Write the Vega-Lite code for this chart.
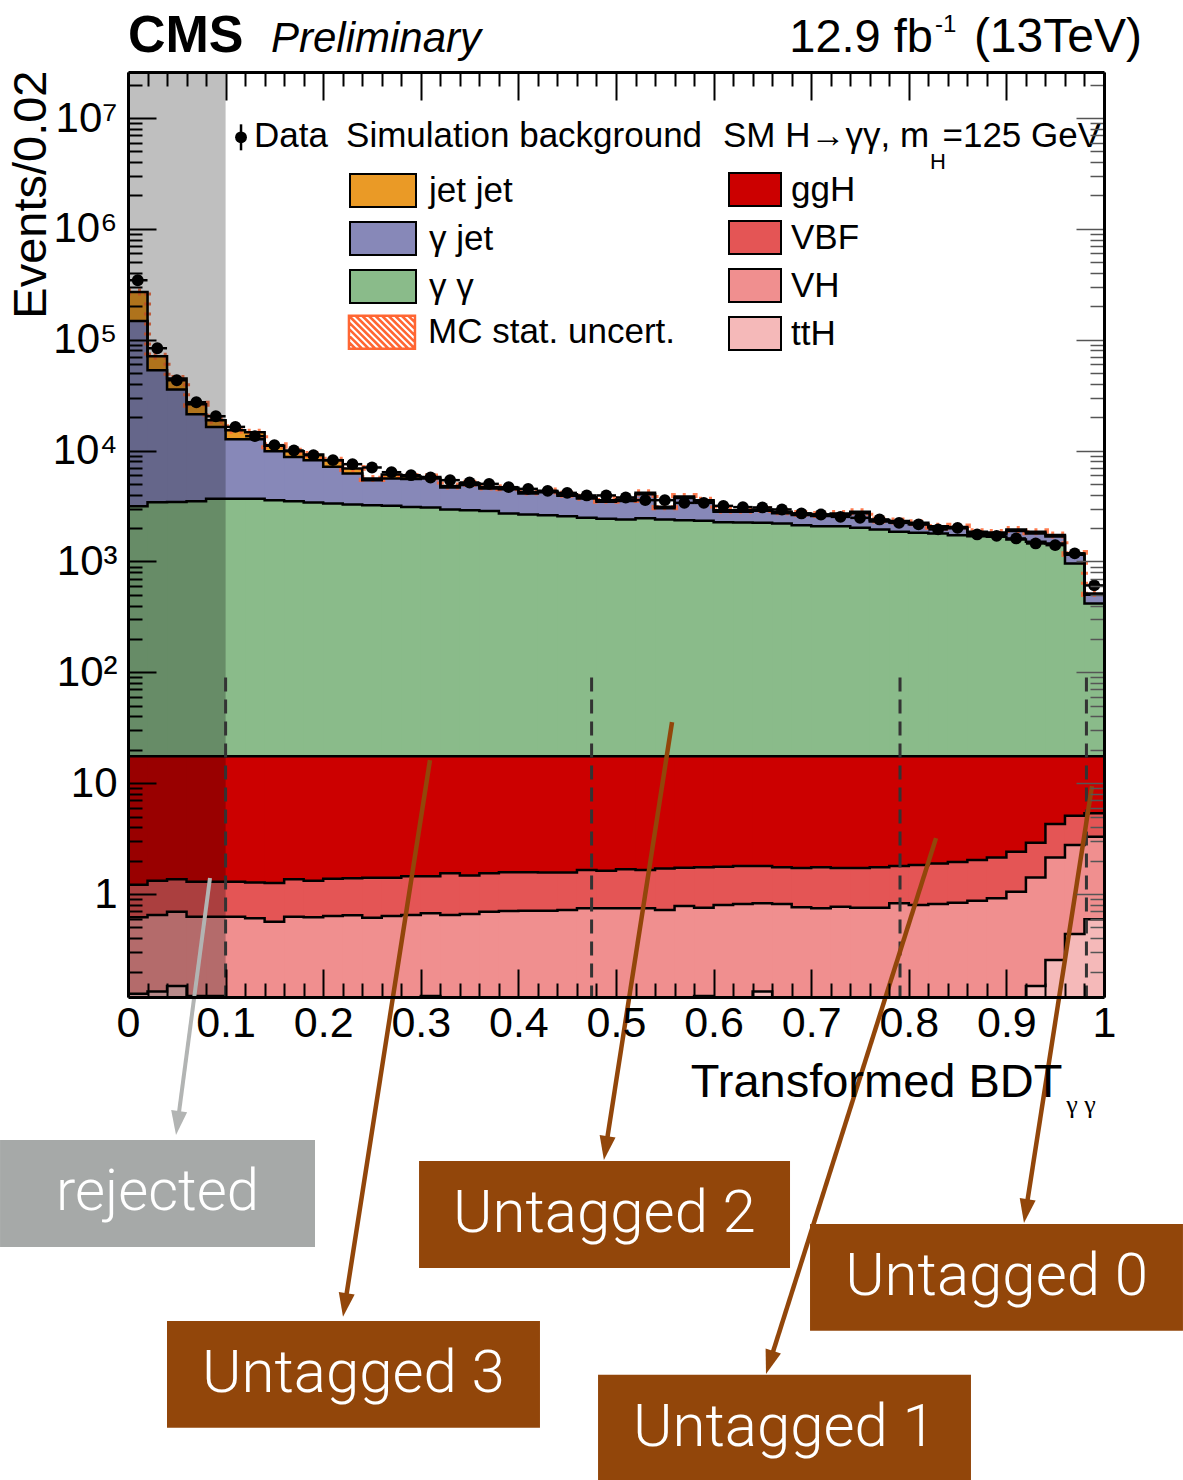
{
"$schema": "https://vega.github.io/schema/vega-lite/v6.json",
"width": 976, "height": 925,
"autosize": "none",
"padding": {"left": 128, "top": 72, "right": 79, "bottom": 483},
"background": "white",
"config": {"view": {"stroke": null}, "font": "Liberation Sans", "axis": {"labelOverlap": false}},
"datasets": {
"hist": [
{"lo":0,"mid":0.01,"hi":0.02,"jj":270000,"gj":147700,"gg":3150,"ggh":17.5,"vbf":1.21,"vh":0.616,"tth":0.126,"data":344000},
{"lo":0.02,"mid":0.03,"hi":0.04,"jj":71000,"gj":53100,"gg":3425,"ggh":17.5,"vbf":1.32,"vh":0.647,"tth":0.132,"data":83800},
{"lo":0.04,"mid":0.05,"hi":0.06,"jj":44700,"gj":35600,"gg":3446,"ggh":17.5,"vbf":1.36,"vh":0.692,"tth":0.148,"data":43100},
{"lo":0.06,"mid":0.07,"hi":0.08,"jj":26200,"gj":21300,"gg":3498,"ggh":17.5,"vbf":1.29,"vh":0.624,"tth":0.12,"data":27300},
{"lo":0.08,"mid":0.09,"hi":0.1,"jj":18800,"gj":16360,"gg":3668,"ggh":17.5,"vbf":1.29,"vh":0.624,"tth":0.12,"data":20400},
{"lo":0.1,"mid":0.11,"hi":0.12,"jj":15280,"gj":12670,"gg":3668,"ggh":17.5,"vbf":1.29,"vh":0.624,"tth":0.1,"data":16360},
{"lo":0.12,"mid":0.13,"hi":0.14,"jj":14650,"gj":12670,"gg":3668,"ggh":17.5,"vbf":1.27,"vh":0.604,"tth":0.1,"data":13490},
{"lo":0.14,"mid":0.15,"hi":0.16,"jj":11030,"gj":9877,"gg":3571,"ggh":17.5,"vbf":1.26,"vh":0.563,"tth":0.1,"data":11190},
{"lo":0.16,"mid":0.17,"hi":0.18,"jj":9877,"gj":8773,"gg":3498,"ggh":17.5,"vbf":1.36,"vh":0.624,"tth":0.1,"data":10020},
{"lo":0.18,"mid":0.19,"hi":0.2,"jj":9226,"gj":8190,"gg":3405,"ggh":17.5,"vbf":1.32,"vh":0.616,"tth":0.1,"data":9089},
{"lo":0.2,"mid":0.21,"hi":0.22,"jj":8190,"gj":7130,"gg":3334,"ggh":17.5,"vbf":1.37,"vh":0.633,"tth":0.1,"data":8194},
{"lo":0.22,"mid":0.23,"hi":0.24,"jj":6896,"gj":6217,"gg":3266,"ggh":17.5,"vbf":1.39,"vh":0.642,"tth":0.1,"data":7540},
{"lo":0.24,"mid":0.25,"hi":0.26,"jj":5600,"gj":5410,"gg":3218,"ggh":17.5,"vbf":1.4,"vh":0.611,"tth":0.1,"data":7040},
{"lo":0.26,"mid":0.27,"hi":0.28,"jj":6087,"gj":5600,"gg":3172,"ggh":17.5,"vbf":1.4,"vh":0.633,"tth":0.1,"data":6383},
{"lo":0.28,"mid":0.29,"hi":0.3,"jj":5850,"gj":5550,"gg":3100,"ggh":17.5,"vbf":1.45,"vh":0.647,"tth":0.1,"data":5998},
{"lo":0.3,"mid":0.31,"hi":0.32,"jj":5790,"gj":5600,"gg":3069,"ggh":17.5,"vbf":1.45,"vh":0.67,"tth":0.12,"data":5720},
{"lo":0.32,"mid":0.33,"hi":0.34,"jj":4800,"gj":4650,"gg":2944,"ggh":17.5,"vbf":1.54,"vh":0.647,"tth":0.1,"data":5410},
{"lo":0.34,"mid":0.35,"hi":0.36,"jj":5070,"gj":4900,"gg":2901,"ggh":17.5,"vbf":1.47,"vh":0.66,"tth":0.1,"data":5157},
{"lo":0.36,"mid":0.37,"hi":0.38,"jj":4700,"gj":4560,"gg":2858,"ggh":17.5,"vbf":1.54,"vh":0.692,"tth":0.1,"data":5009},
{"lo":0.38,"mid":0.39,"hi":0.4,"jj":4610,"gj":4470,"gg":2710,"ggh":17.5,"vbf":1.57,"vh":0.703,"tth":0.1,"data":4677},
{"lo":0.4,"mid":0.41,"hi":0.42,"jj":4240,"gj":4110,"gg":2653,"ggh":17.5,"vbf":1.57,"vh":0.707,"tth":0.1,"data":4514},
{"lo":0.42,"mid":0.43,"hi":0.44,"jj":4330,"gj":4200,"gg":2615,"ggh":17.5,"vbf":1.56,"vh":0.707,"tth":0.1,"data":4330},
{"lo":0.44,"mid":0.45,"hi":0.46,"jj":4030,"gj":3910,"gg":2561,"ggh":17.5,"vbf":1.56,"vh":0.718,"tth":0.1,"data":4155},
{"lo":0.46,"mid":0.47,"hi":0.48,"jj":3800,"gj":3690,"gg":2473,"ggh":17.5,"vbf":1.65,"vh":0.743,"tth":0.1,"data":3938},
{"lo":0.48,"mid":0.49,"hi":0.5,"jj":3570,"gj":3460,"gg":2422,"ggh":17.5,"vbf":1.62,"vh":0.743,"tth":0.1,"data":3938},
{"lo":0.5,"mid":0.51,"hi":0.52,"jj":3620,"gj":3510,"gg":2392,"ggh":17.5,"vbf":1.67,"vh":0.743,"tth":0.1,"data":3777},
{"lo":0.52,"mid":0.53,"hi":0.54,"jj":4155,"gj":4030,"gg":2457,"ggh":17.5,"vbf":1.65,"vh":0.743,"tth":0.1,"data":3571},
{"lo":0.54,"mid":0.55,"hi":0.56,"jj":3110,"gj":3020,"gg":2392,"ggh":17.5,"vbf":1.7,"vh":0.718,"tth":0.1,"data":3571},
{"lo":0.56,"mid":0.57,"hi":0.58,"jj":3860,"gj":3740,"gg":2357,"ggh":17.5,"vbf":1.73,"vh":0.779,"tth":0.1,"data":3376},
{"lo":0.58,"mid":0.59,"hi":0.6,"jj":3570,"gj":3460,"gg":2323,"ggh":17.5,"vbf":1.74,"vh":0.752,"tth":0.12,"data":3376},
{"lo":0.6,"mid":0.61,"hi":0.62,"jj":2900,"gj":2810,"gg":2261,"ggh":17.5,"vbf":1.76,"vh":0.796,"tth":0.1,"data":3172},
{"lo":0.62,"mid":0.63,"hi":0.64,"jj":2900,"gj":2800,"gg":2250,"ggh":17.5,"vbf":1.79,"vh":0.812,"tth":0.1,"data":3090},
{"lo":0.64,"mid":0.65,"hi":0.66,"jj":2944,"gj":2860,"gg":2229,"ggh":17.5,"vbf":1.79,"vh":0.824,"tth":0.132,"data":3069},
{"lo":0.66,"mid":0.67,"hi":0.68,"jj":2800,"gj":2720,"gg":2202,"ggh":17.5,"vbf":1.74,"vh":0.812,"tth":0.1,"data":2944},
{"lo":0.68,"mid":0.69,"hi":0.7,"jj":2710,"gj":2630,"gg":2125,"ggh":17.5,"vbf":1.72,"vh":0.759,"tth":0.1,"data":2710},
{"lo":0.7,"mid":0.71,"hi":0.72,"jj":2650,"gj":2570,"gg":2081,"ggh":17.5,"vbf":1.74,"vh":0.743,"tth":0.1,"data":2653},
{"lo":0.72,"mid":0.73,"hi":0.74,"jj":2710,"gj":2630,"gg":2081,"ggh":17.5,"vbf":1.72,"vh":0.768,"tth":0.1,"data":2524},
{"lo":0.74,"mid":0.75,"hi":0.76,"jj":2800,"gj":2720,"gg":2009,"ggh":17.5,"vbf":1.72,"vh":0.752,"tth":0.1,"data":2473},
{"lo":0.76,"mid":0.77,"hi":0.78,"jj":2360,"gj":2290,"gg":1944,"ggh":17.5,"vbf":1.74,"vh":0.752,"tth":0.1,"data":2392},
{"lo":0.78,"mid":0.79,"hi":0.8,"jj":2320,"gj":2250,"gg":1849,"ggh":17.5,"vbf":1.79,"vh":0.824,"tth":0.1,"data":2229},
{"lo":0.8,"mid":0.81,"hi":0.82,"jj":2230,"gj":2160,"gg":1811,"ggh":17.5,"vbf":1.83,"vh":0.796,"tth":0.1,"data":2157},
{"lo":0.82,"mid":0.83,"hi":0.84,"jj":2080,"gj":2020,"gg":1789,"ggh":17.5,"vbf":1.89,"vh":0.812,"tth":0.1,"data":1944},
{"lo":0.84,"mid":0.85,"hi":0.86,"jj":2050,"gj":1990,"gg":1727,"ggh":17.5,"vbf":1.94,"vh":0.835,"tth":0.1,"data":2009},
{"lo":0.86,"mid":0.87,"hi":0.88,"jj":1850,"gj":1790,"gg":1691,"ggh":17.5,"vbf":2.03,"vh":0.87,"tth":0.1,"data":1752},
{"lo":0.88,"mid":0.89,"hi":0.9,"jj":1820,"gj":1770,"gg":1667,"ggh":17.5,"vbf":2.14,"vh":0.915,"tth":0.1,"data":1702},
{"lo":0.9,"mid":0.91,"hi":0.92,"jj":1940,"gj":1880,"gg":1579,"ggh":17.5,"vbf":2.41,"vh":1.05,"tth":0.1,"data":1612},
{"lo":0.92,"mid":0.93,"hi":0.94,"jj":1850,"gj":1790,"gg":1502,"ggh":17.5,"vbf":2.9,"vh":1.41,"tth":0.148,"data":1453},
{"lo":0.94,"mid":0.95,"hi":0.96,"jj":1730,"gj":1680,"gg":1453,"ggh":17.5,"vbf":4.28,"vh":2.14,"tth":0.254,"data":1403},
{"lo":0.96,"mid":0.97,"hi":0.98,"jj":1180,"gj":1150,"gg":959,"ggh":17.5,"vbf":5.08,"vh":2.77,"tth":0.436,"data":1181},
{"lo":0.98,"mid":0.99,"hi":1,"jj":515,"gj":500,"gg":418,"ggh":17.5,"vbf":5.34,"vh":3.29,"tth":0.591,"data":608}
],
"bounds": [{"cut":0.1},{"cut":0.475},{"cut":0.791},{"cut":0.982}]
},
"layer": [
{
"layer": [
{
"data": {"name": "hist"},
"transform": [{"fold": ["jj","gj","gg"], "as": ["bkg","top"]}, {"filter": {"field": "bkg", "equal": "jj"}}],
"mark": {"type": "rect", "clip": true, "x2Offset": 1},
"encoding": {
"x": {"field": "lo", "type": "quantitative", "scale": {"type": "linear", "domain": [0,1], "nice": false, "zero": false},
 "axis": {"orient": "bottom", "values": [0,0.1,0.2,0.3,0.4,0.5,0.6,0.7,0.8,0.9,1], "format": "~g",
  "tickSize": -28, "tickWidth": 2, "tickColor": "black", "domainColor": "black", "domainWidth": 3,
  "labelFont": "Liberation Sans", "labelFontSize": 43, "labelColor": "black", "labelPadding": 33,
  "labelFlush": false, "labelOverlap": false, "labelBound": false, "grid": false,
  "title": "Transformed BDT", "titleFont": "Liberation Sans", "titleFontSize": 47, "titleFontWeight": "normal", "titleColor": "black",
  "titleX": 934, "titleY": 99, "titleAlign": "right", "titleBaseline": "alphabetic", "zindex": 3}},
"x2": {"field": "hi"},
"y": {"field": "top", "type": "quantitative", "scale": {"type": "log", "domain": [0.1178, 26000000], "nice": false},
 "axis": {"orient": "left", "values": [1,10,100,1000,10000,100000,1000000,10000000],
  "labelExpr": "datum.value == 1 ? '1' : datum.value == 10 ? '10' : datum.value == 100 ? '10²' : datum.value == 1000 ? '10³' : datum.value == 10000 ? '10⁴' : datum.value == 100000 ? '10⁵' : datum.value == 1000000 ? '10⁶' : datum.value == 10000000 ? '10⁷' : ''",
  "tickSize": -28, "tickWidth": 2, "tickColor": "black", "domainColor": "black", "domainWidth": 3,
  "labelFont": "Liberation Sans", "labelFontSize": 42, "labelColor": "black", "labelPadding": 39,
  "labelFlush": false, "labelOverlap": false, "labelBound": false, "grid": false,
  "title": "Events/0.02", "titleFont": "Liberation Sans", "titleFontSize": 47, "titleFontWeight": "normal", "titleColor": "black",
  "titleX": -83, "titleY": -2, "titleAlign": "right", "titleAngle": 270, "titleBaseline": "alphabetic", "zindex": 3}},
"y2": {"datum": 0.1178},
"fill": {"field": "bkg", "type": "nominal", "scale": {"domain": ["jj","gj","gg"], "range": ["#ea9a26","#8788b8","#8abb8a"]},
 "legend": {"orient": "none", "legendX": 221, "legendY": 101, "direction": "vertical", "title": null, "padding": 0,
  "symbolType": "M-1,-0.5H1V0.5H-1Z", "symbolSize": 4356, "symbolStrokeColor": "black", "symbolStrokeWidth": 2, "symbolOpacity": 1,
  "labelFont": "Liberation Sans", "labelFontSize": 35, "labelColor": "black", "labelOffset": 12, "labelLimit": 500,
  "rowPadding": 12, "clipHeight": 35,
  "labelExpr": "datum.label == 'jj' ? 'jet jet' : datum.label == 'gj' ? 'γ jet' : 'γ γ'"}}
}
},
{
"data": {"name": "hist"},
"transform": [{"fold": ["jj","gj","gg"], "as": ["bkg","top"]}, {"filter": {"field": "bkg", "equal": "gj"}}],
"mark": {"type": "rect", "clip": true, "x2Offset": 1},
"encoding": {
"x": {"field": "lo", "type": "quantitative"}, "x2": {"field": "hi"},
"y": {"field": "top", "type": "quantitative"}, "y2": {"datum": 0.1178},
"fill": {"field": "bkg", "type": "nominal"}
}
},
{
"data": {"name": "hist"},
"transform": [{"fold": ["jj","gj","gg"], "as": ["bkg","top"]}, {"filter": {"field": "bkg", "equal": "gg"}}],
"mark": {"type": "rect", "clip": true, "x2Offset": 1},
"encoding": {
"x": {"field": "lo", "type": "quantitative"}, "x2": {"field": "hi"},
"y": {"field": "top", "type": "quantitative"}, "y2": {"datum": 0.1178},
"fill": {"field": "bkg", "type": "nominal"}
}
},
{
"data": {"name": "hist"},
"transform": [{"fold": ["ggh","vbf","vh","tth"], "as": ["sig","top"]}, {"filter": {"field": "sig", "equal": "ggh"}}],
"mark": {"type": "rect", "clip": true, "x2Offset": 1},
"encoding": {
"x": {"field": "lo", "type": "quantitative"}, "x2": {"field": "hi"},
"y": {"field": "top", "type": "quantitative"}, "y2": {"datum": 0.1178},
"color": {"field": "sig", "type": "nominal", "scale": {"domain": ["ggh","vbf","vh","tth"], "range": ["#cc0000","#e45555","#f08f8f","#f5b9b9"]},
 "legend": {"orient": "none", "legendX": 600, "legendY": 100, "direction": "vertical", "title": null, "padding": 0,
  "symbolType": "M-1,-0.635H1V0.635H-1Z", "symbolSize": 2704, "symbolStrokeColor": "black", "symbolStrokeWidth": 2, "symbolOpacity": 1,
  "labelFont": "Liberation Sans", "labelFontSize": 35, "labelColor": "black", "labelOffset": 9, "labelLimit": 500,
  "rowPadding": 12, "clipHeight": 35,
  "labelExpr": "datum.label == 'ggh' ? 'ggH' : datum.label == 'vbf' ? 'VBF' : datum.label == 'vh' ? 'VH' : 'ttH'"}}
}
},
{
"data": {"name": "hist"},
"transform": [{"fold": ["ggh","vbf","vh","tth"], "as": ["sig","top"]}, {"filter": {"field": "sig", "equal": "vbf"}}],
"mark": {"type": "rect", "clip": true, "x2Offset": 1},
"encoding": {
"x": {"field": "lo", "type": "quantitative"}, "x2": {"field": "hi"},
"y": {"field": "top", "type": "quantitative"}, "y2": {"datum": 0.1178},
"color": {"field": "sig", "type": "nominal"}
}
},
{
"data": {"name": "hist"},
"transform": [{"fold": ["ggh","vbf","vh","tth"], "as": ["sig","top"]}, {"filter": {"field": "sig", "equal": "vh"}}],
"mark": {"type": "rect", "clip": true, "x2Offset": 1},
"encoding": {
"x": {"field": "lo", "type": "quantitative"}, "x2": {"field": "hi"},
"y": {"field": "top", "type": "quantitative"}, "y2": {"datum": 0.1178},
"color": {"field": "sig", "type": "nominal"}
}
},
{
"data": {"name": "hist"},
"transform": [{"fold": ["ggh","vbf","vh","tth"], "as": ["sig","top"]}, {"filter": {"field": "sig", "equal": "tth"}}],
"mark": {"type": "rect", "clip": true, "x2Offset": 1},
"encoding": {
"x": {"field": "lo", "type": "quantitative"}, "x2": {"field": "hi"},
"y": {"field": "top", "type": "quantitative"}, "y2": {"datum": 0.1178},
"color": {"field": "sig", "type": "nominal"}
}
},
{
"data": {"name": "hist"},
"transform": [{"fold": ["lo","hi"], "as": ["edge","bx"]}],
"mark": {"type": "line", "clip": true, "stroke": "#ff6633", "strokeWidth": 7, "strokeDash": [3,7], "opacity": 0.85},
"encoding": {
"x": {"field": "bx", "type": "quantitative"},
"y": {"field": "jj", "type": "quantitative"},
"order": [{"field": "bx", "type": "quantitative"}, {"field": "edge", "type": "ordinal"}]
}
},
{
"data": {"name": "hist"},
"transform": [{"fold": ["jj","gj","gg","ggh","vbf","vh","tth"], "as": ["comp","top"]}, {"fold": ["lo","hi"], "as": ["edge","bx"]}],
"mark": {"type": "line", "clip": true, "stroke": "black", "strokeWidth": 2.5},
"encoding": {
"x": {"field": "bx", "type": "quantitative"},
"y": {"field": "top", "type": "quantitative"},
"detail": {"field": "comp", "type": "nominal"},
"order": [{"field": "bx", "type": "quantitative"}, {"field": "edge", "type": "ordinal"}]
}
},
{
"data": {"values": [{}]},
"mark": {"type": "rect", "fill": "black", "opacity": 0.25},
"encoding": {
"x": {"datum": 0, "type": "quantitative"}, "x2": {"datum": 0.1},
"y": {"datum": 26000000, "type": "quantitative"}, "y2": {"datum": 0.1178}
}
},
{
"data": {"name": "bounds"},
"mark": {"type": "rule", "stroke": "#333333", "strokeWidth": 3, "strokeDash": [14,8]},
"encoding": {
"x": {"field": "cut", "type": "quantitative"},
"y": {"datum": 90, "type": "quantitative"}, "y2": {"datum": 0.1178}
}
},
{
"data": {"name": "hist"},
"mark": {"type": "rule", "clip": true, "stroke": "black", "strokeWidth": 2.5},
"encoding": {
"x": {"field": "lo", "type": "quantitative"}, "x2": {"field": "hi"},
"y": {"field": "data", "type": "quantitative"}
}
},
{
"data": {"name": "hist"},
"mark": {"type": "point", "filled": true, "color": "black", "opacity": 1, "size": 140},
"encoding": {
"x": {"field": "mid", "type": "quantitative"},
"y": {"field": "data", "type": "quantitative"}
}
},
{
"data": {"values": [{}]},
"mark": {"type": "point", "filled": true, "color": "black", "opacity": 1, "size": 140},
"encoding": {"x": {"datum": 0.1158, "type": "quantitative"}, "y": {"datum": 6699000, "type": "quantitative"}}
},
{
"data": {"values": [{}]},
"mark": {"type": "rule", "color": "black", "strokeWidth": 2.5},
"encoding": {"x": {"datum": 0.1158, "type": "quantitative"}, "y": {"datum": 8770000, "type": "quantitative"}, "y2": {"datum": 5110000}}
},
{
"data": {"values": [{}]},
"mark": {"type": "text", "text": "Data", "font": "Liberation Sans", "fontSize": 35, "align": "left", "baseline": "middle", "color": "black"},
"encoding": {"x": {"datum": 0.1291, "type": "quantitative"}, "y": {"datum": 6838000, "type": "quantitative"}}
},
{
"data": {"values": [{}]},
"mark": {"type": "text", "text": "Simulation background", "font": "Liberation Sans", "fontSize": 35, "align": "left", "baseline": "middle", "color": "black"},
"encoding": {"x": {"datum": 0.2234, "type": "quantitative"}, "y": {"datum": 6838000, "type": "quantitative"}}
},
{
"data": {"values": [{}]},
"mark": {"type": "text", "text": "SM H→γγ, m", "font": "Liberation Sans", "fontSize": 35, "align": "left", "baseline": "middle", "color": "black"},
"encoding": {"x": {"datum": 0.6096, "type": "quantitative"}, "y": {"datum": 6838000, "type": "quantitative"}}
},
{
"data": {"values": [{}]},
"mark": {"type": "text", "text": "H", "font": "Liberation Sans", "fontSize": 22, "align": "center", "baseline": "middle", "color": "black"},
"encoding": {"x": {"datum": 0.8299, "type": "quantitative"}, "y": {"datum": 3990000, "type": "quantitative"}}
},
{
"data": {"values": [{}]},
"mark": {"type": "text", "text": "=125 GeV", "font": "Liberation Sans", "fontSize": 35, "align": "right", "baseline": "middle", "color": "black"},
"encoding": {"x": {"datum": 0.997, "type": "quantitative"}, "y": {"datum": 6838000, "type": "quantitative"}}
},
{
"data": {"values": [{}]},
"mark": {"type": "point", "shape": "M-1,-0.5H1V0.5H-1Z M-1,0.3L-0.8,0.5 M-1,0.1L-0.6,0.5 M-1,-0.1L-0.4,0.5 M-1,-0.3L-0.2,0.5 M-1,-0.5L0,0.5 M-0.8,-0.5L0.2,0.5 M-0.6,-0.5L0.4,0.5 M-0.4,-0.5L0.6,0.5 M-0.2,-0.5L0.8,0.5 M0,-0.5L1,0.5 M0.2,-0.5L1,0.3 M0.4,-0.5L1,0.1 M0.6,-0.5L1,-0.1 M0.8,-0.5L1,-0.3", "filled": false, "stroke": "#ff6633", "strokeWidth": 2.5, "opacity": 1, "size": 4356},
"encoding": {"x": {"datum": 0.2602, "type": "quantitative"}, "y": {"datum": 116800, "type": "quantitative"}}
},
{
"data": {"values": [{}]},
"mark": {"type": "text", "text": "MC stat. uncert.", "font": "Liberation Sans", "fontSize": 35, "align": "left", "baseline": "middle", "color": "black"},
"encoding": {"x": {"datum": 0.3074, "type": "quantitative"}, "y": {"datum": 116800, "type": "quantitative"}}
},
{
"data": {"values": [{}]},
"mark": {"type": "text", "text": "CMS", "font": "Liberation Sans", "fontSize": 52, "fontWeight": "bold", "align": "left", "baseline": "alphabetic", "color": "black"},
"encoding": {"x": {"datum": 0, "type": "quantitative"}, "y": {"datum": 39120000, "type": "quantitative"}}
},
{
"data": {"values": [{}]},
"mark": {"type": "text", "text": "Preliminary", "font": "Liberation Sans", "fontSize": 42, "fontStyle": "italic", "align": "left", "baseline": "alphabetic", "color": "black"},
"encoding": {"x": {"datum": 0.1465, "type": "quantitative"}, "y": {"datum": 39120000, "type": "quantitative"}}
},
{
"data": {"values": [{}]},
"mark": {"type": "text", "text": "12.9 fb", "font": "Liberation Sans", "fontSize": 47, "align": "right", "baseline": "alphabetic", "color": "black"},
"encoding": {"x": {"datum": 0.8248, "type": "quantitative"}, "y": {"datum": 39120000, "type": "quantitative"}}
},
{
"data": {"values": [{}]},
"mark": {"type": "text", "text": "-1", "font": "Liberation Sans", "fontSize": 24, "align": "left", "baseline": "alphabetic", "color": "black"},
"encoding": {"x": {"datum": 0.8268, "type": "quantitative"}, "y": {"datum": 59300000, "type": "quantitative"}}
},
{
"data": {"values": [{}]},
"mark": {"type": "text", "text": "(13TeV)", "font": "Liberation Sans", "fontSize": 48, "align": "right", "baseline": "alphabetic", "color": "black"},
"encoding": {"x": {"datum": 1.0389, "type": "quantitative"}, "y": {"datum": 39120000, "type": "quantitative"}}
},
{
"data": {"values": [{}]},
"mark": {"type": "text", "text": "γ γ", "font": "Liberation Serif", "fontSize": 26, "align": "center", "baseline": "middle", "color": "black"},
"encoding": {"x": {"datum": 0.9764, "type": "quantitative"}, "y": {"datum": 0.01252, "type": "quantitative"}}
},
{
"data": {"values": [{}]},
"mark": {"type": "rule", "stroke": "#b2b4b3", "strokeWidth": 4},
"encoding": {"x": {"datum": 0.084, "type": "quantitative"}, "y": {"datum": 1.394, "type": "quantitative"}, "x2": {"datum": 0.0508}, "y2": {"datum": 0.008595}}
},
{
"data": {"values": [{}]},
"mark": {"type": "rule", "stroke": "#92460a", "strokeWidth": 4.5},
"encoding": {"x": {"datum": 0.3094, "type": "quantitative"}, "y": {"datum": 16.16, "type": "quantitative"}, "x2": {"datum": 0.2222}, "y2": {"datum": 0.0001963}}
},
{
"data": {"values": [{}]},
"mark": {"type": "rule", "stroke": "#92460a", "strokeWidth": 4.5},
"encoding": {"x": {"datum": 0.5574, "type": "quantitative"}, "y": {"datum": 35.56, "type": "quantitative"}, "x2": {"datum": 0.4895}, "y2": {"datum": 0.005112}}
},
{
"data": {"values": [{}]},
"mark": {"type": "rule", "stroke": "#92460a", "strokeWidth": 4.5},
"encoding": {"x": {"datum": 0.8279, "type": "quantitative"}, "y": {"datum": 3.198, "type": "quantitative"}, "x2": {"datum": 0.6574}, "y2": {"datum": 0.00005952}}
},
{
"data": {"values": [{}]},
"mark": {"type": "rule", "stroke": "#92460a", "strokeWidth": 4.5},
"encoding": {"x": {"datum": 0.9877, "type": "quantitative"}, "y": {"datum": 9.416, "type": "quantitative"}, "x2": {"datum": 0.9199}, "y2": {"datum": 0.001382}}
},
{
"data": {"values": [{}]},
"mark": {"type": "rect", "fill": "#a6a9a8"},
"encoding": {"x": {"datum": -0.1311, "type": "quantitative"}, "x2": {"datum": 0.1916}, "y": {"datum": 0.006049, "type": "quantitative"}, "y2": {"datum": 0.000656}}
},
{
"data": {"values": [{}]},
"mark": {"type": "rect", "fill": "#92460a"},
"encoding": {"x": {"datum": 0.03996, "type": "quantitative"}, "x2": {"datum": 0.4221}, "y": {"datum": 0.0001411, "type": "quantitative"}, "y2": {"datum": 0.0000153}}
},
{
"data": {"values": [{}]},
"mark": {"type": "rect", "fill": "#92460a"},
"encoding": {"x": {"datum": 0.2982, "type": "quantitative"}, "x2": {"datum": 0.6783}, "y": {"datum": 0.003914, "type": "quantitative"}, "y2": {"datum": 0.0004242}}
},
{
"data": {"values": [{}]},
"mark": {"type": "rect", "fill": "#92460a"},
"encoding": {"x": {"datum": 0.4816, "type": "quantitative"}, "x2": {"datum": 0.8637}, "y": {"datum": 0.000046, "type": "quantitative"}, "y2": {"datum": 0.000004224}}
},
{
"data": {"values": [{}]},
"mark": {"type": "rect", "fill": "#92460a"},
"encoding": {"x": {"datum": 0.6988, "type": "quantitative"}, "x2": {"datum": 1.0809}, "y": {"datum": 0.001057, "type": "quantitative"}, "y2": {"datum": 0.0001147}}
},
{
"data": {"values": [{}]},
"mark": {"type": "text", "text": "rejected", "font": "Roboto", "fontWeight": 300, "fontSize": 58, "align": "center", "baseline": "middle", "color": "white"},
"encoding": {"x": {"datum": 0.0302, "type": "quantitative"}, "y": {"datum": 0.001993, "type": "quantitative"}}
},
{
"data": {"values": [{}]},
"mark": {"type": "text", "text": "Untagged 3", "font": "Roboto", "fontWeight": 300, "fontSize": 60, "align": "center", "baseline": "middle", "color": "white"},
"encoding": {"x": {"datum": 0.231, "type": "quantitative"}, "y": {"datum": 0.00004648, "type": "quantitative"}}
},
{
"data": {"values": [{}]},
"mark": {"type": "text", "text": "Untagged 2", "font": "Roboto", "fontWeight": 300, "fontSize": 60, "align": "center", "baseline": "middle", "color": "white"},
"encoding": {"x": {"datum": 0.4882, "type": "quantitative"}, "y": {"datum": 0.001288, "type": "quantitative"}}
},
{
"data": {"values": [{}]},
"mark": {"type": "text", "text": "Untagged 1", "font": "Roboto", "fontWeight": 300, "fontSize": 60, "align": "center", "baseline": "middle", "color": "white"},
"encoding": {"x": {"datum": 0.6726, "type": "quantitative"}, "y": {"datum": 0.0000153, "type": "quantitative"}}
},
{
"data": {"values": [{}]},
"mark": {"type": "text", "text": "Untagged 0", "font": "Roboto", "fontWeight": 300, "fontSize": 60, "align": "center", "baseline": "middle", "color": "white"},
"encoding": {"x": {"datum": 0.8899, "type": "quantitative"}, "y": {"datum": 0.0003482, "type": "quantitative"}}
},
{
"data": {"values": [{}]},
"mark": {"type": "point", "shape": "M-0.67,-1L0.67,-1L0,1Z", "filled": true, "color": "#b2b4b3", "opacity": 1, "size": 576, "angle": 7.5},
"encoding": {"x": {"datum": 0.0508, "type": "quantitative"}, "y": {"datum": 0.008595, "type": "quantitative"}}
},
{
"data": {"values": [{}]},
"mark": {"type": "point", "shape": "M-0.67,-1L0.67,-1L0,1Z", "filled": true, "color": "#92460a", "opacity": 1, "size": 576, "angle": 8.9},
"encoding": {"x": {"datum": 0.2222, "type": "quantitative"}, "y": {"datum": 0.0001963, "type": "quantitative"}}
},
{
"data": {"values": [{}]},
"mark": {"type": "point", "shape": "M-0.67,-1L0.67,-1L0,1Z", "filled": true, "color": "#92460a", "opacity": 1, "size": 576, "angle": 8.8},
"encoding": {"x": {"datum": 0.4895, "type": "quantitative"}, "y": {"datum": 0.005112, "type": "quantitative"}}
},
{
"data": {"values": [{}]},
"mark": {"type": "point", "shape": "M-0.67,-1L0.67,-1L0,1Z", "filled": true, "color": "#92460a", "opacity": 1, "size": 576, "angle": 17.6},
"encoding": {"x": {"datum": 0.6574, "type": "quantitative"}, "y": {"datum": 0.00005952, "type": "quantitative"}}
},
{
"data": {"values": [{}]},
"mark": {"type": "point", "shape": "M-0.67,-1L0.67,-1L0,1Z", "filled": true, "color": "#92460a", "opacity": 1, "size": 576, "angle": 8.85},
"encoding": {"x": {"datum": 0.9199, "type": "quantitative"}, "y": {"datum": 0.001382, "type": "quantitative"}}
}
]
},
{
"data": {"values": [{}]},
"mark": {"type": "point", "opacity": 0},
"encoding": {
"x": {"datum": 0.5, "type": "quantitative", "scale": {"type": "linear", "domain": [0,1], "nice": false, "zero": false},
 "axis": {"orient": "top", "values": [0,0.02,0.04,0.06,0.08,0.1,0.12,0.14,0.16,0.18,0.2,0.22,0.24,0.26,0.28,0.3,0.32,0.34,0.36,0.38,0.4,0.42,0.44,0.46,0.48,0.5,0.52,0.54,0.56,0.58,0.6,0.62,0.64,0.66,0.68,0.7,0.72,0.74,0.76,0.78,0.8,0.82,0.84,0.86,0.88,0.9,0.92,0.94,0.96,0.98,1],
  "labels": false, "title": null, "grid": false,
  "tickSize": {"condition": {"test": "round(datum.value*100) % 10 == 0", "value": -28}, "value": -14},
  "tickWidth": 2, "tickColor": "black", "domainColor": "black", "domainWidth": 3, "zindex": 3}},
"y": {"datum": 1, "type": "quantitative", "scale": {"type": "log", "domain": [0.1178, 26000000], "nice": false},
 "axis": {"orient": "right", "values": [0.2,0.3,0.4,0.5,0.6,0.7,0.8,0.9,1,2,3,4,5,6,7,8,9,10,20,30,40,50,60,70,80,90,100,200,300,400,500,600,700,800,900,1000,2000,3000,4000,5000,6000,7000,8000,9000,10000,20000,30000,40000,50000,60000,70000,80000,90000,100000,200000,300000,400000,500000,600000,700000,800000,900000,1000000,2000000,3000000,4000000,5000000,6000000,7000000,8000000,9000000,10000000,20000000],
  "labels": false, "title": null, "grid": false,
  "tickSize": {"condition": {"test": "abs(log(datum.value)/LN10 - round(log(datum.value)/LN10)) < 0.001", "value": -28}, "value": -14},
  "tickWidth": 1.5, "tickColor": "#555555", "domainColor": "black", "domainWidth": 3, "zindex": 3}}
}
},
{
"data": {"values": [{}]},
"mark": {"type": "point", "opacity": 0},
"encoding": {
"x": {"datum": 0.5, "type": "quantitative", "scale": {"type": "linear", "domain": [0,1], "nice": false, "zero": false},
 "axis": {"orient": "bottom", "values": [0.02,0.04,0.06,0.08,0.12,0.14,0.16,0.18,0.22,0.24,0.26,0.28,0.32,0.34,0.36,0.38,0.42,0.44,0.46,0.48,0.52,0.54,0.56,0.58,0.62,0.64,0.66,0.68,0.72,0.74,0.76,0.78,0.82,0.84,0.86,0.88,0.92,0.94,0.96,0.98],
  "labels": false, "title": null, "grid": false, "domain": false,
  "tickSize": -14, "tickWidth": 2, "tickColor": "black", "zindex": 3}},
"y": {"datum": 1, "type": "quantitative", "scale": {"type": "log", "domain": [0.1178, 26000000], "nice": false},
 "axis": {"orient": "left", "values": [0.2,0.3,0.4,0.5,0.6,0.7,0.8,0.9,2,3,4,5,6,7,8,9,20,30,40,50,60,70,80,90,200,300,400,500,600,700,800,900,2000,3000,4000,5000,6000,7000,8000,9000,20000,30000,40000,50000,60000,70000,80000,90000,200000,300000,400000,500000,600000,700000,800000,900000,2000000,3000000,4000000,5000000,6000000,7000000,8000000,9000000,20000000],
  "labels": false, "title": null, "grid": false, "domain": false,
  "tickSize": -14, "tickWidth": 2, "tickColor": "black", "zindex": 3}}
}
}
],
"resolve": {"axis": {"x": "independent", "y": "independent"}}
}
